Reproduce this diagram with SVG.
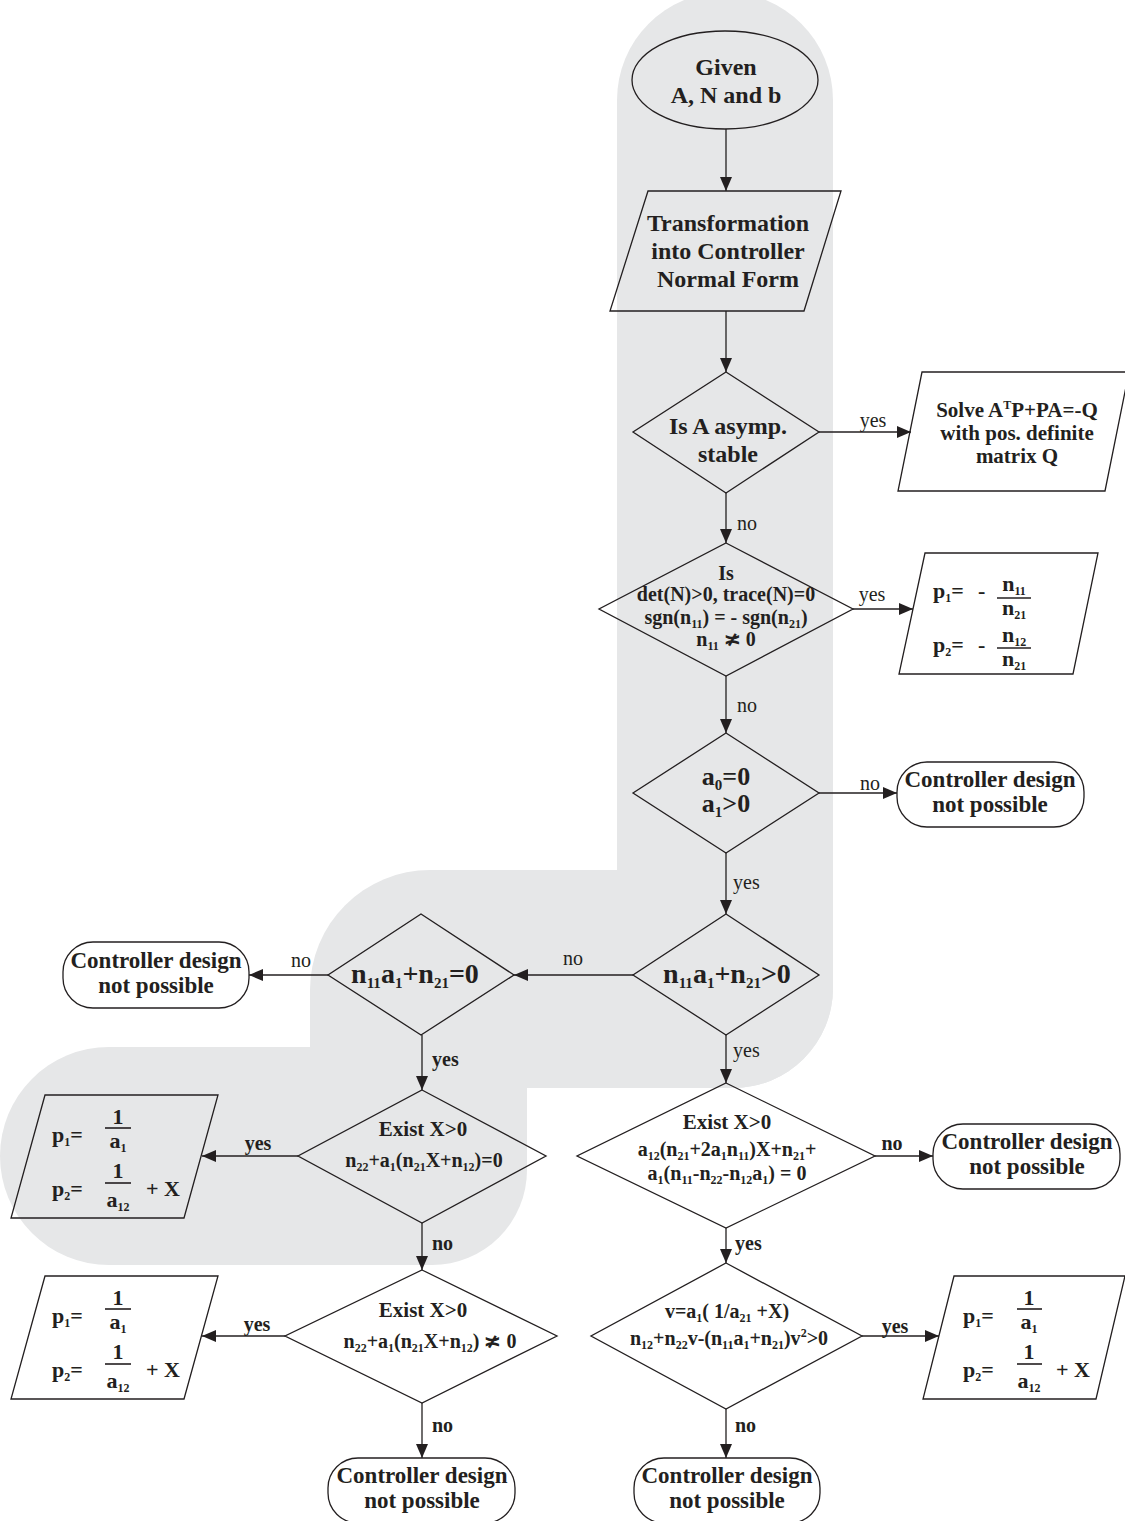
<svg xmlns="http://www.w3.org/2000/svg" width="1125" height="1521" viewBox="0 0 1125 1521">
<defs>
<style>
.bg{fill:#e6e7e8;stroke:none}
.sh{fill:none;stroke:#231f20;stroke-width:1.3}
.ln{fill:none;stroke:#231f20;stroke-width:1.3}
.bar{stroke:#231f20;stroke-width:1.6}
text{font-family:"Liberation Serif","Times New Roman",serif;fill:#231f20}
.b{font-weight:bold;text-anchor:middle}
.bs{font-weight:bold}
.lb{font-size:20px}
.lbb{font-size:20px;font-weight:bold}
.s{font-size:12px;baseline-shift:-4px}
.sL{font-size:15px;baseline-shift:-5px}
.sup{font-size:12px;baseline-shift:8px}
</style>
<marker id="ah" markerUnits="userSpaceOnUse" markerWidth="14" markerHeight="12" refX="14" refY="6" orient="auto"><path d="M0,0 L14,6 L0,12 Z" fill="#231f20"/></marker>
</defs>
<rect width="1125" height="1521" fill="#ffffff"/>
<g id="background">
<path class="bg" d="M617,100 A108,108 0 0 1 833,100 L833,988 A100,100 0 0 1 733,1088 L617,1088 Z"/>
<path class="bg" d="M310,1088 L310,990 A120,120 0 0 1 430,870 L833,870 L833,988 A100,100 0 0 1 733,1088 Z"/>
<path class="bg" d="M0,1156 A109,109 0 0 1 109,1047 L527,1047 L527,1170 A95,95 0 0 1 432,1265 L109,1265 A109,109 0 0 1 0,1156 Z"/>
</g>
<g id="connectors">
<line class="ln" x1="726" y1="129" x2="726" y2="191" marker-end="url(#ah)"/>
<line class="ln" x1="726" y1="311" x2="726" y2="372" marker-end="url(#ah)"/>
<line class="ln" x1="819" y1="432" x2="911" y2="432" marker-end="url(#ah)"/>
<line class="ln" x1="726" y1="493" x2="726" y2="543" marker-end="url(#ah)"/>
<line class="ln" x1="853" y1="609" x2="913" y2="609" marker-end="url(#ah)"/>
<line class="ln" x1="726" y1="676" x2="726" y2="733" marker-end="url(#ah)"/>
<line class="ln" x1="819" y1="793" x2="897" y2="793" marker-end="url(#ah)"/>
<line class="ln" x1="726" y1="853" x2="726" y2="914" marker-end="url(#ah)"/>
<line class="ln" x1="633" y1="975" x2="514" y2="975" marker-end="url(#ah)"/>
<line class="ln" x1="328" y1="975" x2="249" y2="975" marker-end="url(#ah)"/>
<line class="ln" x1="422" y1="1035" x2="422" y2="1090" marker-end="url(#ah)"/>
<line class="ln" x1="298" y1="1156" x2="202" y2="1156" marker-end="url(#ah)"/>
<line class="ln" x1="422" y1="1223" x2="422" y2="1270" marker-end="url(#ah)"/>
<line class="ln" x1="285" y1="1336" x2="202" y2="1336" marker-end="url(#ah)"/>
<line class="ln" x1="422" y1="1403" x2="422" y2="1458" marker-end="url(#ah)"/>
<line class="ln" x1="726" y1="1035" x2="726" y2="1083" marker-end="url(#ah)"/>
<line class="ln" x1="875" y1="1156" x2="933" y2="1156" marker-end="url(#ah)"/>
<line class="ln" x1="726" y1="1228" x2="726" y2="1263" marker-end="url(#ah)"/>
<line class="ln" x1="862" y1="1336" x2="939" y2="1336" marker-end="url(#ah)"/>
<line class="ln" x1="726" y1="1409" x2="726" y2="1458" marker-end="url(#ah)"/>
<text class="lb" x="873" y="427" text-anchor="middle">yes</text>
<text class="lb" x="737" y="530">no</text>
<text class="lb" x="872" y="601" text-anchor="middle">yes</text>
<text class="lb" x="737" y="712">no</text>
<text class="lb" x="870" y="790" text-anchor="middle">no</text>
<text class="lb" x="733" y="889">yes</text>
<text class="lb" x="573" y="965" text-anchor="middle">no</text>
<text class="lb" x="301" y="967" text-anchor="middle">no</text>
<text class="lb" x="733" y="1057">yes</text>
<text class="lbb" x="432" y="1066">yes</text>
<text class="lbb" x="258" y="1150" text-anchor="middle">yes</text>
<text class="lbb" x="892" y="1150" text-anchor="middle">no</text>
<text class="lbb" x="432" y="1250">no</text>
<text class="lbb" x="735" y="1250">yes</text>
<text class="lbb" x="257" y="1331" text-anchor="middle">yes</text>
<text class="lbb" x="895" y="1333" text-anchor="middle">yes</text>
<text class="lbb" x="432" y="1432">no</text>
<text class="lbb" x="735" y="1432">no</text>
</g>
<g id="n_given">
<ellipse class="sh" cx="725" cy="80" rx="93" ry="49"/>
<text class="b" x="726" y="75" font-size="24">Given</text>
<text class="b" x="726" y="103" font-size="24">A, N and b</text>
</g>
<g id="n_transform">
<polygon class="sh" points="648,191 841,191 804,311 610,311"/>
<text class="b" x="728" y="231" font-size="24">Transformation</text>
<text class="b" x="728" y="259" font-size="24">into Controller</text>
<text class="b" x="728" y="287" font-size="24">Normal Form</text>
</g>
<g id="n_stable">
<polygon class="sh" points="726,372 819,432 726,493 633,432"/>
<text class="b" x="728" y="434" font-size="24">Is A asymp.</text>
<text class="b" x="728" y="462" font-size="24">stable</text>
</g>
<g id="n_solve">
<polygon class="sh" points="922,372 1129,372 1105,491 898,491"/>
<text class="b" x="1017" y="417" font-size="21">Solve A<tspan class="sup">T</tspan>P+PA=-Q</text>
<text class="b" x="1017" y="440" font-size="21">with pos. definite</text>
<text class="b" x="1017" y="463" font-size="21">matrix Q</text>
</g>
<g id="n_det">
<polygon class="sh" points="726,543 853,609 726,676 599,609"/>
<text class="b" x="726" y="580" font-size="20">Is</text>
<text class="b" x="726" y="601" font-size="20">det(N)&gt;0, trace(N)=0</text>
<text class="b" x="726" y="624" font-size="20">sgn(n<tspan class="s">11</tspan>) = - sgn(n<tspan class="s">21</tspan>)</text>
<text class="b" x="726" y="646" font-size="20">n<tspan class="s">11</tspan> ≭ 0</text>
</g>
<g id="n_p_neg">
<polygon class="sh" points="925,553 1098,553 1073,674 899,674"/>
<text class="bs" x="933" y="598" font-size="22">p<tspan class="s">1</tspan>=</text>
<text class="bs" x="978" y="598" font-size="22">-</text>
<text class="b" x="1014" y="591" font-size="22">n<tspan class="s">11</tspan></text>
<line class="bar" x1="997" y1="598" x2="1031" y2="598"/>
<text class="b" x="1014" y="615" font-size="22">n<tspan class="s">21</tspan></text>
<text class="bs" x="933" y="652" font-size="22">p<tspan class="s">2</tspan>=</text>
<text class="bs" x="978" y="652" font-size="22">-</text>
<text class="b" x="1014" y="642" font-size="22">n<tspan class="s">12</tspan></text>
<line class="bar" x1="997" y1="648" x2="1031" y2="648"/>
<text class="b" x="1014" y="666" font-size="22">n<tspan class="s">21</tspan></text>
</g>
<g id="n_a0">
<polygon class="sh" points="726,733 819,793 726,853 633,793"/>
<text class="b" x="726" y="785" font-size="26">a<tspan class="sL">0</tspan>=0</text>
<text class="b" x="726" y="812" font-size="26">a<tspan class="sL">1</tspan>&gt;0</text>
</g>
<g id="n_t1">
<rect class="sh" x="897" y="762" width="187" height="65" rx="30" ry="30"/>
<text class="b" x="990" y="787" font-size="23">Controller design</text>
<text class="b" x="990" y="812" font-size="23">not possible</text>
</g>
<g id="n_gt">
<polygon class="sh" points="726,914 819,975 726,1035 633,975"/>
<text class="b" x="727" y="983" font-size="28">n<tspan class="sL">11</tspan>a<tspan class="sL">1</tspan>+n<tspan class="sL">21</tspan>&gt;0</text>
</g>
<g id="n_eq">
<polygon class="sh" points="421,914 514,975 421,1035 328,975"/>
<text class="b" x="415" y="983" font-size="28">n<tspan class="sL">11</tspan>a<tspan class="sL">1</tspan>+n<tspan class="sL">21</tspan>=0</text>
</g>
<g id="n_t2">
<rect class="sh" x="63" y="942" width="186" height="66" rx="30" ry="30"/>
<text class="b" x="156" y="968" font-size="23">Controller design</text>
<text class="b" x="156" y="993" font-size="23">not possible</text>
</g>
<g id="n_ex1">
<polygon class="sh" points="422,1090 546,1156 422,1223 298,1156"/>
<text class="b" x="423" y="1136" font-size="21">Exist X&gt;0</text>
<text class="b" x="424" y="1167" font-size="20">n<tspan class="s">22</tspan>+a<tspan class="s">1</tspan>(n<tspan class="s">21</tspan>X+n<tspan class="s">12</tspan>)=0</text>
</g>
<g id="n_pL1">
<polygon class="sh" points="45,1095 218,1095 184,1218 11,1218"/>
<text class="bs" x="52" y="1142" font-size="22">p<tspan class="s">1</tspan>=</text>
<text class="b" x="118" y="1124" font-size="22">1</text>
<line class="bar" x1="105" y1="1128" x2="131" y2="1128"/>
<text class="b" x="118" y="1148" font-size="22">a<tspan class="s">1</tspan></text>
<text class="bs" x="52" y="1196" font-size="22">p<tspan class="s">2</tspan>=</text>
<text class="b" x="118" y="1178" font-size="22">1</text>
<line class="bar" x1="105" y1="1183" x2="131" y2="1183"/>
<text class="b" x="118" y="1207" font-size="22">a<tspan class="s">12</tspan></text>
<text class="bs" x="146" y="1196" font-size="22">+ X</text>
</g>
<g id="n_ex2">
<polygon class="sh" points="422,1270 557,1336 422,1403 285,1336"/>
<text class="b" x="423" y="1317" font-size="21">Exist X&gt;0</text>
<text class="b" x="430" y="1348" font-size="20">n<tspan class="s">22</tspan>+a<tspan class="s">1</tspan>(n<tspan class="s">21</tspan>X+n<tspan class="s">12</tspan>) ≭ 0</text>
</g>
<g id="n_pL2">
<polygon class="sh" points="45,1276 218,1276 184,1399 11,1399"/>
<text class="bs" x="52" y="1323" font-size="22">p<tspan class="s">1</tspan>=</text>
<text class="b" x="118" y="1305" font-size="22">1</text>
<line class="bar" x1="105" y1="1309" x2="131" y2="1309"/>
<text class="b" x="118" y="1329" font-size="22">a<tspan class="s">1</tspan></text>
<text class="bs" x="52" y="1377" font-size="22">p<tspan class="s">2</tspan>=</text>
<text class="b" x="118" y="1359" font-size="22">1</text>
<line class="bar" x1="105" y1="1364" x2="131" y2="1364"/>
<text class="b" x="118" y="1388" font-size="22">a<tspan class="s">12</tspan></text>
<text class="bs" x="146" y="1377" font-size="22">+ X</text>
</g>
<g id="n_tBL">
<rect class="sh" x="328" y="1458" width="187" height="65" rx="30" ry="30"/>
<text class="b" x="422" y="1483" font-size="23">Controller design</text>
<text class="b" x="422" y="1508" font-size="23">not possible</text>
</g>
<g id="n_ex3">
<polygon class="sh" points="726,1083 875,1156 726,1228 577,1156"/>
<text class="b" x="727" y="1129" font-size="21">Exist X&gt;0</text>
<text class="b" x="727" y="1156" font-size="20">a<tspan class="s">12</tspan>(n<tspan class="s">21</tspan>+2a<tspan class="s">1</tspan>n<tspan class="s">11</tspan>)X+n<tspan class="s">21</tspan>+</text>
<text class="b" x="727" y="1180" font-size="20">a<tspan class="s">1</tspan>(n<tspan class="s">11</tspan>-n<tspan class="s">22</tspan>-n<tspan class="s">12</tspan>a<tspan class="s">1</tspan>) = 0</text>
</g>
<g id="n_tR2">
<rect class="sh" x="933" y="1124" width="187" height="65" rx="30" ry="30"/>
<text class="b" x="1027" y="1149" font-size="23">Controller design</text>
<text class="b" x="1027" y="1174" font-size="23">not possible</text>
</g>
<g id="n_v">
<polygon class="sh" points="726,1263 862,1336 726,1409 591,1336"/>
<text class="b" x="727" y="1318" font-size="20">v=a<tspan class="s">1</tspan>( 1/a<tspan class="s">21</tspan> +X)</text>
<text class="b" x="729" y="1345" font-size="20">n<tspan class="s">12</tspan>+n<tspan class="s">22</tspan>v-(n<tspan class="s">11</tspan>a<tspan class="s">1</tspan>+n<tspan class="s">21</tspan>)v<tspan class="sup">2</tspan>&gt;0</text>
</g>
<g id="n_pR">
<polygon class="sh" points="954,1276 1125,1276 1096,1399 923,1399"/>
<text class="bs" x="963" y="1323" font-size="22">p<tspan class="s">1</tspan>=</text>
<text class="b" x="1029" y="1305" font-size="22">1</text>
<line class="bar" x1="1017" y1="1309" x2="1042" y2="1309"/>
<text class="b" x="1029" y="1329" font-size="22">a<tspan class="s">1</tspan></text>
<text class="bs" x="963" y="1377" font-size="22">p<tspan class="s">2</tspan>=</text>
<text class="b" x="1029" y="1359" font-size="22">1</text>
<line class="bar" x1="1017" y1="1364" x2="1042" y2="1364"/>
<text class="b" x="1029" y="1388" font-size="22">a<tspan class="s">12</tspan></text>
<text class="bs" x="1056" y="1377" font-size="22">+ X</text>
</g>
<g id="n_tBR">
<rect class="sh" x="634" y="1458" width="186" height="65" rx="30" ry="30"/>
<text class="b" x="727" y="1483" font-size="23">Controller design</text>
<text class="b" x="727" y="1508" font-size="23">not possible</text>
</g>
</svg>
